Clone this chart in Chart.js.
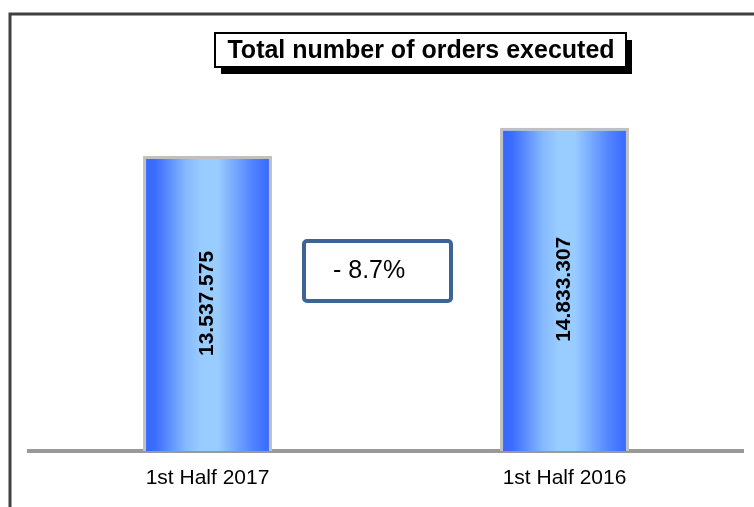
<!DOCTYPE html>
<html>
<head>
<meta charset="utf-8">
<script src="https://cdn.jsdelivr.net/npm/chart.js@4.4.0/dist/chart.umd.min.js"></script>
<style>
  body { margin: 0; background: #fff; }
  #wrap { width: 754px; height: 507px; }
</style>
</head>
<body>
<div id="wrap"><canvas id="chart" width="754" height="507"></canvas></div>
<script>
const categories = ['1st Half 2017', '1st Half 2016'];
const orders = [13537575, 14833307];
const valueLabels = ['13.537.575', '14.833.307'];
const chartTitle = 'Total number of orders executed';

const change = (orders[0] - orders[1]) / orders[1] * 100;
const changeLabel = (change < 0 ? '- ' : '+ ') + Math.abs(change).toFixed(1) + '%';

const barPct = 0.361;
const font = '"Liberation Sans", Arial, sans-serif';

// horizontal gradient for each bar, dark at the edges and light in the middle
const barFill = (context) => {
    const chart = context.chart;
    const xs = chart.scales.x;
    if (!xs || !chart.chartArea) return '#6699ff';
    const cx = xs.getPixelForValue(context.dataIndex);
    const w = xs.width / categories.length * barPct;
    const g = chart.ctx.createLinearGradient(cx - w / 2, 0, cx + w / 2, 0);
    g.addColorStop(0, '#3366ff');
    g.addColorStop(0.1, '#3d6eff');
    g.addColorStop(0.33, '#85b8ff');
    g.addColorStop(0.45, '#99ccff');
    g.addColorStop(0.58, '#99ccff');
    g.addColorStop(0.85, '#5283ff');
    g.addColorStop(1, '#3366ff');
    return g;
};

const decorations = {
    id: 'decorations',
    beforeDraw(chart) {
        const ctx = chart.ctx;
        ctx.save();
        ctx.fillStyle = '#fff';
        ctx.fillRect(0, 0, chart.width, chart.height);
        // outer frame (left and top edges only are visible)
        ctx.strokeStyle = '#404040';
        ctx.lineWidth = 3;
        ctx.beginPath();
        ctx.moveTo(10, chart.height);
        ctx.lineTo(10, 14);
        ctx.lineTo(chart.width, 14);
        ctx.stroke();
        ctx.restore();
    },
    afterDatasetsDraw(chart) {
        const ctx = chart.ctx;
        const meta = chart.getDatasetMeta(0);
        ctx.save();
        // rotated value labels inside the bars
        ctx.fillStyle = '#000';
        ctx.font = 'bold 21px ' + font;
        ctx.textAlign = 'center';
        ctx.textBaseline = 'middle';
        meta.data.forEach((bar, i) => {
            ctx.save();
            ctx.translate(bar.x, (bar.y + bar.base) / 2);
            ctx.rotate(-Math.PI / 2);
            ctx.fillText(valueLabels[i], 0, 0);
            ctx.restore();
        });

        // title box with drop shadow
        ctx.font = 'bold 25px ' + font;
        const tx = 421, ty = 51;
        const bx = 215, by = 33, bw = 411, bh = 34;
        ctx.fillStyle = '#000';
        ctx.fillRect(bx + 6, by + 7, bw, bh);
        ctx.fillStyle = '#fff';
        ctx.fillRect(bx, by, bw, bh);
        ctx.strokeStyle = '#000';
        ctx.lineWidth = 2;
        ctx.strokeRect(bx, by, bw, bh);
        ctx.fillStyle = '#000';
        ctx.fillText(chartTitle, tx, ty);

        // change box between the bars
        const px = 304, py = 241, pw = 147, ph = 60;
        ctx.strokeStyle = '#3d6594';
        ctx.lineWidth = 4;
        ctx.beginPath();
        ctx.roundRect(px, py, pw, ph, 3);
        ctx.stroke();
        ctx.fillStyle = '#000';
        ctx.font = '25px ' + font;
        ctx.textAlign = 'left';
        ctx.fillText(changeLabel, 333, 271);
        ctx.restore();
    }
};

new Chart(document.getElementById('chart'), {
    type: 'bar',
    data: {
        labels: categories,
        datasets: [{
            data: orders,
            backgroundColor: barFill,
            borderColor: '#c0c0c0',
            borderWidth: { top: 3, left: 3, right: 3, bottom: 0 },
            borderSkipped: 'bottom',
            barPercentage: barPct,
            categoryPercentage: 1
        }]
    },
    options: {
        responsive: false,
        animation: false,
        layout: { padding: { top: 15, left: 29, right: 11, bottom: 0 } },
        plugins: {
            legend: { display: false },
            tooltip: { enabled: false }
        },
        scales: {
            y: {
                display: false,
                min: 0,
                max: 20000000
            },
            x: {
                grid: { display: false },
                border: { display: true, color: '#999999', width: 4 },
                ticks: {
                    color: '#000',
                    font: { family: font, size: 21 },
                    padding: 7
                },
                afterFit(scale) { scale.height = 56; }
            }
        }
    },
    plugins: [decorations]
});
</script>
</body>
</html>
